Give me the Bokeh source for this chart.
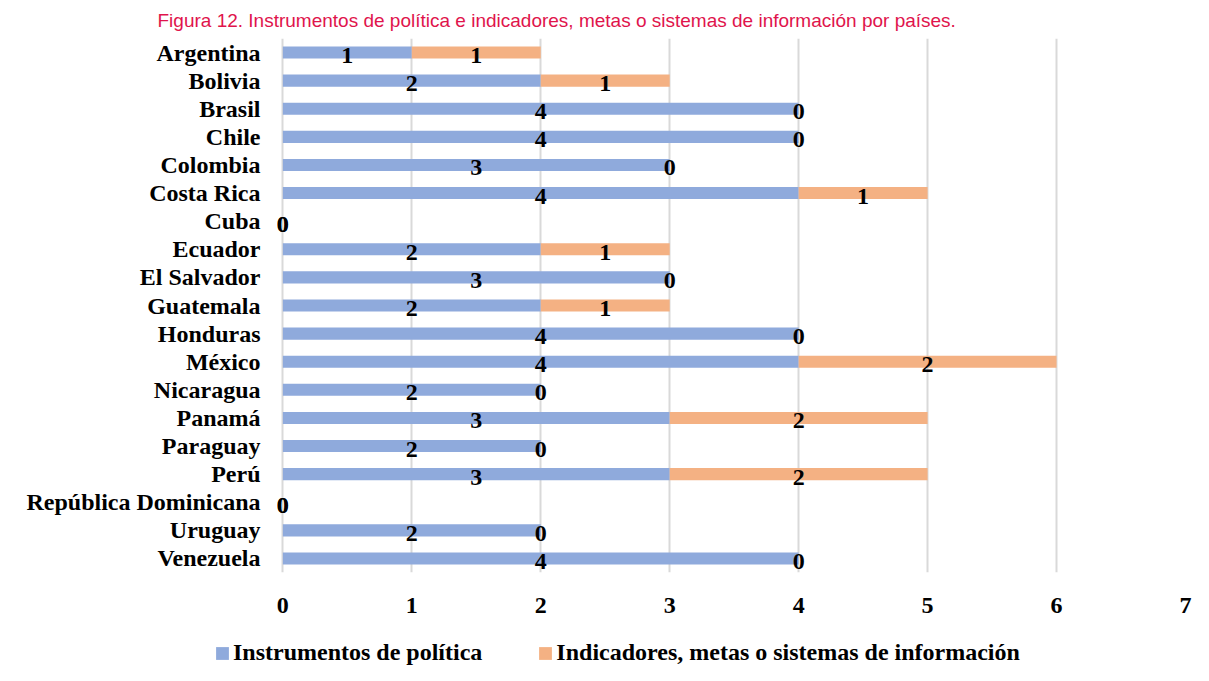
from bokeh.plotting import figure
from bokeh.layouts import column
from bokeh.models import ColumnDataSource, FactorRange, Legend, LegendItem, Title, FixedTicker
from bokeh.core.properties import value
from bokeh.embed import file_html
from bokeh.resources import INLINE

countries = ["Argentina", "Bolivia", "Brasil", "Chile", "Colombia", "Costa Rica", "Cuba",
             "Ecuador", "El Salvador", "Guatemala", "Honduras", "México", "Nicaragua",
             "Panamá", "Paraguay", "Perú", "República Dominicana", "Uruguay", "Venezuela"]
instrumentos = [1, 2, 4, 4, 3, 4, 0, 2, 3, 2, 4, 4, 2, 3, 2, 3, 0, 2, 4]
indicadores = [1, 1, 0, 0, 0, 1, 0, 1, 0, 1, 0, 2, 0, 2, 0, 2, 0, 0, 0]
series_names = ["Instrumentos de política", "Indicadores, metas o sistemas de información"]
x_ticks = [0, 1, 2, 3, 4, 5, 6, 7]
title_text = "Figura 12. Instrumentos de política e indicadores, metas o sistemas de información por países."

BLUE = "#8FAADC"
ORANGE = "#F4B183"
FONT = "Liberation Serif"
FS = "24px"

src = ColumnDataSource(dict(
    country=countries,
    instr=instrumentos,
    ind=indicadores,
    zero=[0] * len(countries),
    total=[a + b for a, b in zip(instrumentos, indicadores)],
    instr_mid=[a / 2 for a in instrumentos],
    ind_mid=[a + b / 2 for a, b in zip(instrumentos, indicadores)],
    instr_lbl=[str(v) for v in instrumentos],
    ind_lbl=[str(v) for v in indicadores],
))

MAIN_H = 630
p = figure(width=1209, height=MAIN_H, output_backend="svg", toolbar_location=None,
           x_range=(-0.15, 7), y_range=FactorRange(factors=list(reversed(countries)), range_padding=0),
           min_border_left=263, min_border_right=24, min_border_top=38, min_border_bottom=58)
p.frame_align = False
p.outline_line_color = None
p.background_fill_color = "white"
p.border_fill_color = "white"

p.hbar(y="country", left="zero", right="instr", height=0.43, source=src,
       fill_color=BLUE, line_color=None)
p.hbar(y="country", left="instr", right="total", height=0.43, source=src,
       fill_color=ORANGE, line_color=None)

for col_x, col_t in (("instr_mid", "instr_lbl"), ("ind_mid", "ind_lbl")):
    p.text(x=col_x, y="country", text=col_t, source=src, text_align="center",
           text_baseline="middle", y_offset=3, text_font=value(FONT), text_font_style="bold",
           text_font_size=FS, text_color="black")

p.xaxis.ticker = FixedTicker(ticks=x_ticks)
for ax in (p.xaxis, p.yaxis):
    ax.axis_line_color = None
    ax.major_tick_line_color = None
    ax.minor_tick_line_color = None
    ax.major_tick_out = 0
    ax.major_tick_in = 0
    ax.major_label_text_font = FONT
    ax.major_label_text_font_style = "bold"
    ax.major_label_text_font_size = FS
    ax.major_label_text_color = "black"
p.xaxis.major_label_standoff = 25
p.yaxis.major_label_standoff = 3

p.ygrid.grid_line_color = None
p.xgrid.grid_line_color = "#d9d9d9"
p.xgrid.grid_line_width = 2

title = Title(text=title_text, align="left", offset=-106, standoff=15,
              text_font="Liberation Sans", text_font_size="19px", text_font_style="normal",
              text_color="#E0144C")
p.add_layout(title, "above")

# legend strip below the chart; its proxy bars lie outside its visible x range
q = figure(width=1209, height=681 - MAIN_H, output_backend="svg", toolbar_location=None,
           x_range=(-100, -99), y_range=FactorRange(factors=list(reversed(countries))),
           min_border_left=0, min_border_right=0, min_border_top=0, min_border_bottom=0)
q.frame_align = False
q.axis.visible = False
q.grid.visible = False
q.outline_line_color = None
q.background_fill_color = "white"
q.border_fill_color = "white"
l1 = q.hbar(y="country", left="zero", right="instr", height=0.43, source=src,
            fill_color=BLUE, line_color=None)
l2 = q.hbar(y="country", left="instr", right="total", height=0.43, source=src,
            fill_color=ORANGE, line_color=None)
legend = Legend(items=[LegendItem(label=series_names[0], renderers=[l1]),
                       LegendItem(label=series_names[1], renderers=[l2])],
                orientation="horizontal", location=(214, 15),
                label_text_font=FONT, label_text_font_style="bold", label_text_font_size=FS,
                label_text_color="black", glyph_width=16, glyph_height=16,
                label_standoff=3, spacing=55, padding=0, margin=0,
                border_line_color=None, background_fill_alpha=0)
q.add_layout(legend, "center")

layout = column(p, q, spacing=0)
open("out.html", "w").write(file_html(layout, INLINE))
